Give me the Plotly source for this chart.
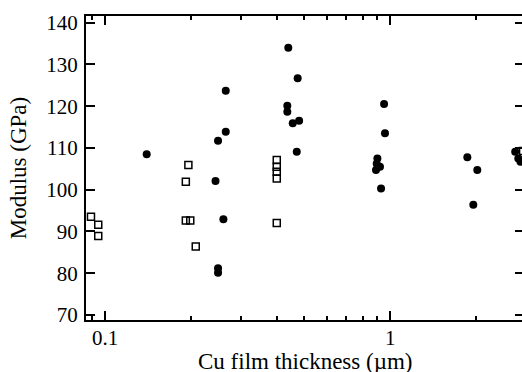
import plotly.graph_objects as go

# Filled circles
circle_x = [0.140, 0.244, 0.265, 0.265, 0.249, 0.260, 0.249, 0.249,
            0.439, 0.4735, 0.4355, 0.4355, 0.455, 0.479, 0.470,
            0.951, 0.958, 0.901, 0.896, 0.920, 0.891, 0.928,
            1.862, 2.018, 1.954, 2.74, 2.81, 2.86]
circle_y = [108.5, 102.1, 123.7, 113.9, 111.7, 92.9, 81.2, 80.1,
            134.0, 126.7, 120.1, 118.7, 115.9, 116.5, 109.1,
            120.5, 113.5, 107.5, 106.2, 105.5, 104.7, 100.3,
            107.8, 104.7, 96.4, 109.1, 107.5, 106.7]

# Open squares
square_x = [0.0893, 0.0947, 0.0947, 0.196, 0.192, 0.192, 0.199, 0.208,
            0.400, 0.400, 0.400, 0.400, 0.400, 2.92]
square_y = [93.5, 91.6, 88.9, 105.9, 101.9, 92.6, 92.6, 86.4,
            107.1, 105.5, 104.3, 102.7, 92.0, 109.3]

y_ticks = [70, 80, 90, 100, 110, 120, 130, 140]
x_ticks = [0.1, 1]
x_ticktext = ["0.1", "1"]
x_title = "Cu film thickness (µm)"
y_title = "Modulus (GPa)"

FONT = "Liberation Serif"

fig = go.Figure()
fig.add_trace(go.Scatter(
    x=square_x, y=square_y, mode="markers",
    marker=dict(symbol="square-open", size=7, color="black", line=dict(width=1.5, color="black")),
    showlegend=False))
fig.add_trace(go.Scatter(
    x=circle_x, y=circle_y, mode="markers",
    marker=dict(symbol="circle", size=8, color="black", line=dict(width=0)),
    showlegend=False))

fig.update_layout(
    width=530, height=372,
    margin=dict(l=86, r=6, t=16, b=52),
    plot_bgcolor="white", paper_bgcolor="white",
    font=dict(family=FONT, size=21, color="black"),
    xaxis=dict(
        type="log", range=[-1.0666, 0.4686], automargin=False,
        tickvals=x_ticks, ticktext=x_ticktext,
        tickfont=dict(family=FONT, size=21),
        ticks="inside", ticklen=9, tickwidth=2, tickcolor="black",
        minor=dict(ticks="inside", ticklen=4, tickwidth=2, tickcolor="black", dtick="D1"),
        showline=True, linewidth=2, linecolor="black", mirror="ticks",
        showgrid=False, zeroline=False,
        ticklabelstandoff=-2,
    ),
    yaxis=dict(
        range=[68.8, 141.6], tickvals=y_ticks, automargin=False,
        tickfont=dict(family=FONT, size=21),
        ticks="inside", ticklen=9, tickwidth=2, tickcolor="black",
        showline=True, linewidth=2, linecolor="black", mirror="ticks",
        showgrid=False, zeroline=False,
        ticklabelstandoff=2,
        title=dict(text=y_title, standoff=13, font=dict(family=FONT, size=23)),
    ),
    annotations=[dict(
        text=x_title, xref="paper", yref="paper", x=0.5, y=0,
        xanchor="center", yanchor="top", yshift=-27, showarrow=False,
        font=dict(family=FONT, size=23, color="black"))],
)

fig.write_html(
    "out.html",
    config={"displayModeBar": False},
    post_script="document.body.style.margin='0';document.body.style.overflow='hidden';",
)
